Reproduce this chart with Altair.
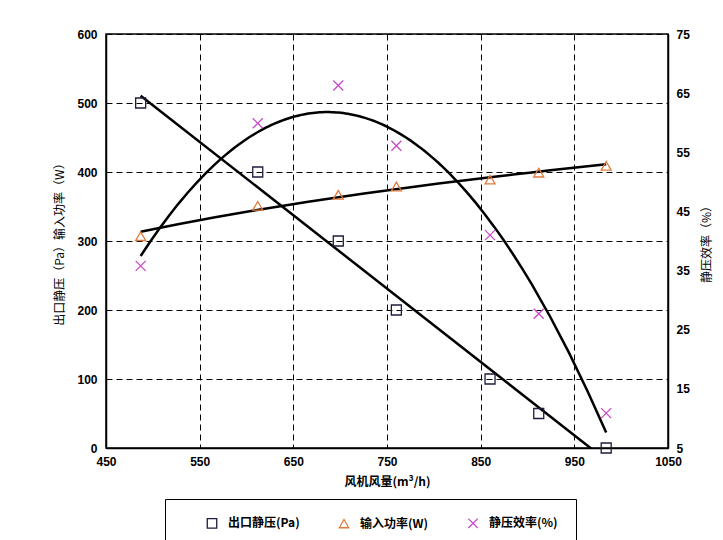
import altair as alt
import pandas as pd

# Data
flow = [487, 612, 698, 760, 860, 912, 984]            # 风机风量 (m³/h)
pressure = [500, 400, 300, 200, 100, 50, 0]            # 出口静压 (Pa)
power = [307, 351, 367, 379, 389, 399, 409]            # 输入功率 (W)
efficiency = [35.8, 59.9, 66.3, 56.1, 41.0, 27.7, 10.9]  # 静压效率 (%)

series_names = ["出口静压(Pa)", "输入功率(W)", "静压效率(%)"]
series_colors = ["#1c1c3c", "#e07a3a", "#c848c8"]
xshape = "M-1,-1L1,1M-1,1L1,-1"
series_shapes = ["square", "triangle-up", xshape]

left_df = pd.DataFrame({
    "flow": flow * 2,
    "value": pressure + power,
    "series": [series_names[0]] * len(flow) + [series_names[1]] * len(flow),
})
right_df = pd.DataFrame({
    "flow": flow,
    "value": efficiency,
    "series": [series_names[2]] * len(flow),
})

FONT = "Liberation Sans"
CJK = "Noto Sans CJK SC"

x_enc = alt.X(
    "flow:Q",
    scale=alt.Scale(domain=[450, 1050], nice=False, zero=False),
    axis=alt.Axis(
        title="风机风量(m³/h)", format="d",
        values=[450, 550, 650, 750, 850, 950, 1050],
        grid=True, gridColor="black", gridDash=[6, 4], gridWidth=1,
        ticks=False, labelPadding=8, labelFont=FONT, labelFontSize=12,
        labelFontWeight="bold", labelColor="black", labelFlush=False,
        titleFont=CJK, titleFontSize=12, titleFontWeight="bold",
        titleColor="black", titlePadding=9,
        domainColor="black", domainWidth=1.5,
    ),
)

left_scale = alt.Scale(domain=[0, 600], nice=False)
right_scale = alt.Scale(domain=[5, 75], nice=False, zero=False)

left_axis = alt.Axis(
    title="出口静压（Pa）输入功率（W）",
    values=[0, 100, 200, 300, 400, 500, 600],
    grid=True, gridColor="black", gridDash=[6, 4], gridWidth=1,
    ticks=False, labelPadding=9, labelFont=FONT, labelFontSize=12,
    labelFontWeight="bold", labelColor="black", labelFlush=False,
    titleFont=CJK, titleFontSize=12, titleFontWeight="normal",
    titleColor="black", titlePadding=10,
    domainColor="black", domainWidth=1.5,
)
right_axis = alt.Axis(
    title="静压效率（%）", orient="right",
    values=[5, 15, 25, 35, 45, 55, 65, 75],
    grid=False, ticks=False, labelPadding=8, labelFont=FONT,
    labelFontSize=12, labelFontWeight="bold", labelColor="black",
    labelFlush=False,
    titleFont=CJK, titleFontSize=12, titleFontWeight="normal",
    titleColor="black", titlePadding=12, titleAngle=-90,
    titleBaseline="top",
    domainColor="black", domainWidth=1.5,
)

color_enc = alt.Color(
    "series:N",
    scale=alt.Scale(domain=series_names, range=series_colors),
    legend=alt.Legend(
        title=None, orient="none", direction="horizontal",
        legendX=59, legendY=465,
        strokeColor="black", padding=18,
        columnPadding=15, symbolOffset=23, labelOffset=10, symbolSize=90,
        symbolStrokeWidth=1.3,
        labelFont=CJK, labelFontSize=12, labelFontWeight="bold",
        labelColor="black", fillColor="white",
    ),
)
shape_enc = alt.Shape(
    "series:N",
    scale=alt.Scale(domain=series_names, range=series_shapes),
    legend=None,
)

left_points = alt.Chart(left_df).mark_point(
    filled=False, size=100, strokeWidth=1.3, opacity=1
).encode(
    x=x_enc,
    y=alt.Y("value:Q", scale=left_scale, axis=left_axis),
    color=color_enc,
    shape=shape_enc,
)

pressure_line = alt.Chart(left_df).transform_filter(
    alt.datum.series == series_names[0]
).transform_regression(
    "flow", "value", method="linear"
).mark_line(color="black", strokeWidth=2.5, clip=True).encode(
    x="flow:Q",
    y=alt.Y("value:Q", scale=left_scale),
)

power_line = alt.Chart(left_df).transform_filter(
    alt.datum.series == series_names[1]
).transform_regression(
    "flow", "value", method="log"
).mark_line(color="black", strokeWidth=2.5, clip=True).encode(
    x="flow:Q",
    y=alt.Y("value:Q", scale=left_scale),
)

right_points = alt.Chart(right_df).mark_point(
    filled=False, size=100, strokeWidth=1.3, opacity=1
).encode(
    x="flow:Q",
    y=alt.Y("value:Q", scale=right_scale, axis=right_axis),
    color=color_enc,
    shape=shape_enc,
)

eff_line = alt.Chart(right_df).transform_regression(
    "flow", "value", method="poly", order=2
).mark_line(color="black", strokeWidth=2.5, clip=True).encode(
    x="flow:Q",
    y=alt.Y("value:Q", scale=right_scale),
)

left_layer = alt.layer(pressure_line, power_line, left_points)
right_layer = alt.layer(eff_line, right_points)

chart = alt.layer(left_layer, right_layer).resolve_scale(
    y="independent"
).properties(
    width=562, height=414,
    autosize=alt.AutoSizeParams(type="none"),
    padding={"left": 106, "top": 34, "right": 55, "bottom": 92},
    background="white",
).configure_view(
    stroke="black", strokeWidth=1.5
).configure_legend(
    strokeWidth=1
)

chart.save("out.html", embed_options={"renderer": "svg", "actions": False})
